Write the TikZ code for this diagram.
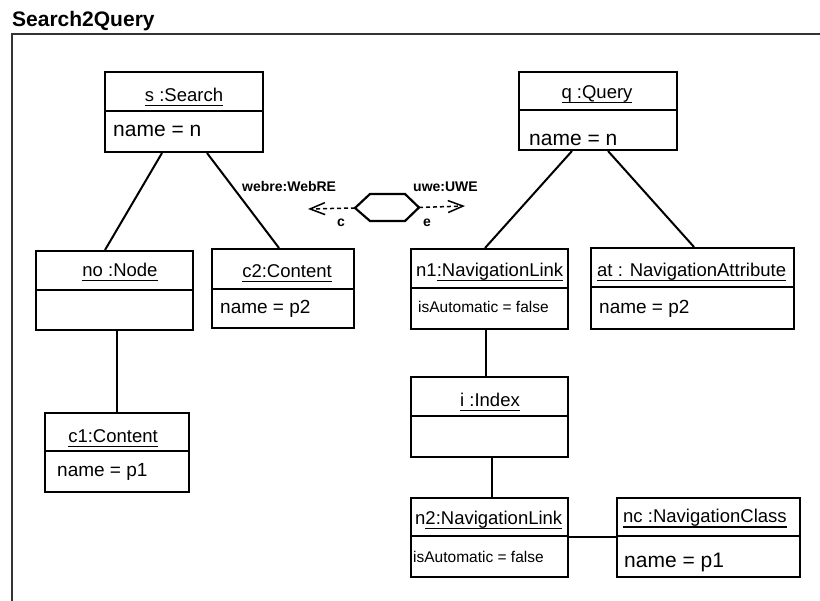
\documentclass[tikz,border=0pt]{standalone}
\usepackage{fontspec}
\setmainfont{Liberation Sans}
\usetikzlibrary{arrows.meta}
\newsavebox\ulsave
% underline that crosses descenders at a fixed depth
\newcommand\ulbox[1]{\sbox\ulsave{#1}\rlap{\rule[-4.5pt]{\wd\ulsave}{1.3pt}}\usebox\ulsave}

\begin{document}
\begin{tikzpicture}[x=1pt,y=-1pt,
  objbox/.style={draw, line width=2pt, inner sep=0, rectangle},
  divider/.style={line width=1.5pt},
  link/.style={line width=2pt},
  ttl/.style={inner sep=0, font=\fontsize{18.5}{22}\selectfont},
  attr/.style={inner sep=0, font=\fontsize{19}{22}\selectfont},
  bigattr/.style={inner sep=0, font=\fontsize{21}{24}\selectfont},
  smallattr/.style={inner sep=0, font=\fontsize{15.5}{18}\selectfont},
  lbl/.style={inner sep=0, font=\bfseries\fontsize{14}{16}\selectfont},
  dep/.style={line width=1.5pt, dash pattern=on 4pt off 3pt,
    -{Straight Barb[length=15pt, width=12pt, line width=1.5pt]}}]
\useasboundingbox (0,0) rectangle (820,601);

% frame and title
\node[inner sep=0, anchor=base west, font=\bfseries\fontsize{21}{24}\selectfont] (title) at (12,27) {Search2Query};
\draw[line width=1.6pt, black!80] (12,601) -- (12,34) -- (820,34);

% object boxes
\node[objbox, minimum width=158pt, minimum height=80pt] (s) at (184,112) {};
\draw[divider] ([yshift=-40pt]s.north west) -- ([yshift=-40pt]s.north east);
\node[ttl, anchor=base] (sT) at (184,102) {\ulbox{s :Search}};
\node[bigattr, anchor=base west] (sA) at (113,137) {name = n};

\node[objbox, minimum width=158pt, minimum height=78pt] (q) at (598,111) {};
\draw[divider] ([yshift=-39pt]q.north west) -- ([yshift=-39pt]q.north east);
\node[ttl, anchor=base] (qT) at (597,99) {\ulbox{q :Query}};
\node[bigattr, anchor=base west] (qA) at (529,146) {name = n};

\node[objbox, minimum width=157pt, minimum height=79pt] (no) at (114.5,290.5) {};
\draw[divider] ([yshift=-40pt]no.north west) -- ([yshift=-40pt]no.north east);
\node[ttl, anchor=base] (noT) at (120,277) {\ulbox{no :Node}};

\node[objbox, minimum width=142pt, minimum height=79pt] (c2) at (283,288.5) {};
\draw[divider] ([yshift=-41pt]c2.north west) -- ([yshift=-41pt]c2.north east);
\node[ttl, anchor=base] (c2T) at (287,278) {\ulbox{c2:Content}};
\node[attr, anchor=base west] (c2A) at (220,314) {name = p2};

\node[objbox, minimum width=157pt, minimum height=80pt] (n1) at (489.5,289) {};
\draw[divider] ([yshift=-40pt]n1.north west) -- ([yshift=-40pt]n1.north east);
\node[ttl, anchor=base west] (n1T) at (416,277) {n1\ulbox{:NavigationLink}};
\node[smallattr, anchor=base west] (n1A) at (418,313) {isAutomatic = false};

\node[objbox, minimum width=203pt, minimum height=81pt] (at) at (692.5,288.5) {};
\draw[divider] ([yshift=-40pt]at.north west) -- ([yshift=-40pt]at.north east);
\node[ttl, anchor=base west] (atT) at (597,277) {\ulbox{at : NavigationAttribute}};
\node[attr, anchor=base west] (atA) at (599,314) {name = p2};

\node[objbox, minimum width=144pt, minimum height=79pt] (c1) at (117,452.5) {};
\draw[divider] ([yshift=-39pt]c1.north west) -- ([yshift=-39pt]c1.north east);
\node[ttl, anchor=base] (c1T) at (113,443) {\ulbox{c1:Content}};
\node[attr, anchor=base west] (c1A) at (57,477) {name = p1};

\node[objbox, minimum width=157pt, minimum height=80pt] (i) at (489.5,417) {};
\draw[divider] ([yshift=-40pt]i.north west) -- ([yshift=-40pt]i.north east);
\node[ttl, anchor=base] (iT) at (490,407) {\ulbox{i :Index}};

\node[objbox, minimum width=157pt, minimum height=79pt] (n2) at (489.5,537.5) {};
\draw[divider] ([yshift=-39pt]n2.north west) -- ([yshift=-39pt]n2.north east);
\node[ttl, anchor=base west] (n2T) at (415,525) {n\ulbox{2:NavigationLink}};
\node[smallattr, anchor=base west] (n2A) at (413,562) {isAutomatic = false};

\node[objbox, minimum width=183pt, minimum height=79pt] (nc) at (708.5,537.5) {};
\draw[divider] ([yshift=-39pt]nc.north west) -- ([yshift=-39pt]nc.north east);
\node[ttl, anchor=base west] (ncT) at (623,523) {\ulbox{nc :NavigationClass}};
\node[bigattr, anchor=base west] (ncA) at (624,568) {name = p1};

% links
\draw[link] ([xshift=58pt]s.south west) -- ([xshift=70pt]no.north west);
\draw[link] ([xshift=103pt]s.south west) -- ([xshift=68pt]c2.north west);
\draw[link] ([xshift=54pt]q.south west) -- ([xshift=75pt]n1.north west);
\draw[link] ([xshift=90pt]q.south west) -- ([xshift=104pt]at.north west);
\draw[link] ([xshift=82pt]no.south west) -- ([xshift=73pt]c1.north west);
\draw[link] ([xshift=76pt]n1.south west) -- ([xshift=76pt]i.north west);
\draw[link] ([xshift=82pt]i.south west) -- ([xshift=82pt]n2.north west);
\draw[link] (n2.east) -- (nc.west);

% transformation hexagon with its two dependencies
\coordinate (hx) at (387,207.5);
\draw[line width=2.2pt, line join=miter] (hx) ++(-32,0.5) coordinate (hxL)
  -- ++(15,-14) -- ++(35,0) -- ++(14,13.5) coordinate (hxR)
  -- ++(-14,13.5) -- ++(-35,0) -- cycle;
\coordinate (cTip) at (308,209);
\coordinate (eTip) at (465,206);
\draw[dep] (hxL) -- (cTip);
\draw[dep] (hxR) -- (eTip);
\node[lbl, anchor=base west] (wl) at (242,192) {webre:WebRE};
\node[lbl, anchor=base west] (ul) at (413,192) {uwe:UWE};
\node[lbl, anchor=base west] (cl) at (337,227) {c};
\node[lbl, anchor=base west] (el) at (423,227) {e};
\end{tikzpicture}
\end{document}
